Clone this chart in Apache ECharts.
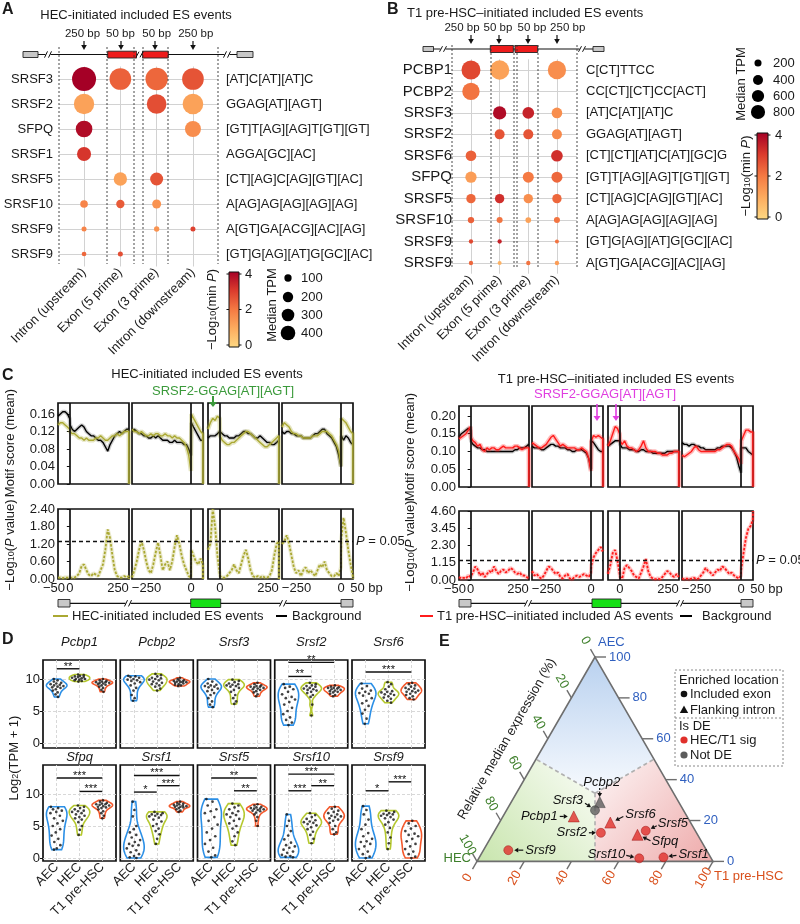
<!DOCTYPE html>
<html>
<head>
<meta charset="utf-8">
<script src="https://cdn.jsdelivr.net/npm/echarts@6.0.0/dist/echarts.min.js"></script>
<style>html,body{margin:0;padding:0;background:#fff;}#chart{width:800px;height:924px;}</style>
</head>
<body>
<div id="chart"></div>
<script>
// ======================= DATA =======================
// ---- Panel A
const aRows = ['SRSF3','SRSF2','SFPQ','SRSF1','SRSF5','SRSF10','SRSF9','SRSF9'];
const aMotifs = ['[AT]C[AT][AT]C','GGAG[AT][AGT]','[GT]T[AG][AG]T[GT][GT]','AGGA[GC][AC]','[CT][AG]C[AG][GT][AC]','A[AG]AG[AG][AG][AG]','A[GT]GA[ACG][AC][AG]','[GT]G[AG][AT]G[GC][AC]'];
const locNames = ['Intron (upstream)','Exon (5 prime)','Exon (3 prime)','Intron (downstream)'];
const aCol = [1,2,3,4, 1,3,4, 1,4, 1, 2,3, 1,2,3, 1,3,4, 1,2];
const aRow = [0,0,0,0, 1,1,1, 2,2, 3, 4,4, 5,5,5, 6,6,6, 7,7];
const aTPM = [1080,880,935,880, 775,725,800, 520,480, 370, 335,317, 110,130,150, 47,53,47, 41,47];
const aP   = [4.0,2.4,2.3,2.6, 1.2,2.7,1.2, 3.8,1.6, 3.1, 1.2,2.6, 1.8,2.5,1.5, 1.8,1.5,2.9, 2.3,2.7];
const aSizeLegend = [100,200,300,400];
// ---- Panel B
const bRows = ['PCBP1','PCBP2','SRSF3','SRSF2','SRSF6','SFPQ','SRSF5','SRSF10','SRSF9','SRSF9'];
const bMotifs = ['C[CT]TTCC','CC[CT][CT]CC[ACT]','[AT]C[AT][AT]C','GGAG[AT][AGT]','[CT][CT][AT]C[AT][GC]G','[GT]T[AG][AG]T[GT][GT]','[CT][AG]C[AG][GT][AC]','A[AG]AG[AG][AG][AG]','[GT]G[AG][AT]G[GC][AC]','A[GT]GA[ACG][AC][AG]'];
const bCol = [1,2,4, 1, 2,3,4, 2,3,4, 1,4, 1,3,4, 1,2,3,4, 1,2,3,4, 1,2,4, 1,2,3,4];
const bRow = [0,0,0, 1, 2,2,2, 3,3,3, 4,4, 5,5,5, 6,6,6,6, 7,7,7,7, 8,8,8, 9,9,9,9];
const bTPM = [1444,1490,1340, 1200, 710,545,455, 400,400,400, 455,545, 510,485,485, 350,350,350,350, 160,144,130,144, 75,75,64, 75,64,75,75];
const bP   = [2.8,1.2,1.6, 2.1, 3.8,3.4,1.6, 2.6,2.6,1.7, 2.4,3.2, 1.3,2.0,2.3, 2.3,3.2,1.6,2.3, 2.4,2.1,1.2,2.1, 2.8,3.4,2.1, 2.3,0.9,2.1,1.3];
const bSizeLegend = [200,400,600,800];
const pLegendTicks = [0,2,4];

// ---- Panel C (bp positions; exon/intron windows)
const xsA = [-50,-40,-30,-20,-10,-1,1,10,20,30,40,50,60,70,80,90,100,110,120,130,140,150,160,170,180,190,200,210,220,230,240,249,250];
const xsB = [-250,-240,-230,-220,-210,-200,-190,-180,-170,-160,-150,-140,-130,-120,-110,-100,-90,-80,-70,-60,-50,-40,-30,-20,-10,-1,1,10,20,30,40,49,50];
// HEC (left) motif score
const LT1bg = [.155,.16,.165,.165,.16,.15,.135,.125,.12,.125,.13,.135,.13,.12,.115,.11,.11,.105,.10,.10,.095,.085,.075,.09,.10,.11,.115,.12,.115,.12,.125,.125,.125];
const LT1fg = [.135,.14,.14,.135,.13,.125,.12,.115,.115,.11,.105,.105,.10,.105,.10,.10,.10,.105,.105,.11,.105,.10,.10,.105,.11,.11,.115,.11,.115,.12,.12,.12,0];
const LT2bg = [.12,.125,.12,.115,.115,.11,.11,.105,.105,.11,.105,.11,.105,.10,.10,.10,.095,.095,.10,.095,.095,.095,.09,.09,.08,.065,.14,.13,.12,.11,.10,.10,.10];
const LT2fg = [.125,.12,.12,.115,.12,.115,.11,.11,.115,.11,.115,.115,.11,.11,.115,.11,.11,.105,.11,.105,.105,.10,.095,.085,.065,.03,.16,.15,.14,.13,.12,.115,0];
const LT3bg = [.105,.11,.11,.11,.115,.12,.12,.115,.11,.11,.105,.105,.105,.11,.11,.115,.12,.12,.115,.115,.11,.105,.105,.11,.105,.10,.095,.095,.09,.09,.095,.10,.10];
const LT3fg = [.125,.14,.15,.145,.155,.15,.11,.10,.095,.09,.09,.095,.095,.10,.105,.11,.115,.12,.12,.115,.11,.105,.10,.095,.09,.085,.085,.09,.095,.10,.105,.11,0];
const LT4bg = [.12,.115,.12,.12,.115,.115,.11,.11,.11,.105,.105,.105,.105,.11,.115,.115,.12,.125,.125,.115,.11,.105,.095,.085,.065,.04,.11,.10,.11,.105,.095,.09,.09];
const LT4fg = [.13,.14,.135,.13,.12,.115,.115,.11,.11,.105,.105,.105,.105,.11,.11,.11,.115,.12,.12,.12,.115,.11,.10,.09,.075,.04,.15,.145,.14,.13,.12,.115,0];
// HEC (left) -log10 P
const LB1 = [.05,.05,.03,.05,.05,.05,.1,.05,.05,.1,.2,.45,.5,.3,.15,.1,.2,.15,.1,.3,.5,1.0,1.7,1.4,.8,.3,.1,.05,.05,.1,.05,.1,0];
const LB2 = [.05,.3,.6,1.0,1.3,1.0,.6,.3,.2,.5,.9,1.25,.8,.3,.5,.6,.3,.6,1.1,1.5,1.2,.8,.5,.3,.1,.05,1.0,.8,.6,.5,.7,.5,0];
const LB3 = [1.0,1.2,2.4,1.8,.8,.2,.1,.05,.05,.1,.2,.3,.5,.3,.2,.5,.8,1.0,.7,.3,.1,.05,.1,.05,.1,.05,.05,.1,.3,.8,1.2,1.3,0];
const LB4 = [1.2,1.3,1.5,1.2,.8,.4,.2,.3,.1,.3,.4,.2,.3,.2,.1,.3,.5,.4,.6,.3,.2,.1,.1,.2,.1,.4,1.4,2.1,1.6,1.0,.5,.1,0];
// T1 pre-HSC (right) motif score
const RT1bg = [.14,.15,.155,.16,.165,.16,.13,.12,.115,.11,.11,.105,.105,.10,.10,.10,.10,.10,.10,.10,.10,.10,.10,.10,.10,.105,.105,.11,.11,.11,.115,.12,.12];
const RT1fg = [.135,.14,.145,.15,.16,.17,.14,.13,.125,.115,.12,.105,.10,.11,.105,.11,.11,.105,.105,.11,.115,.11,.11,.11,.11,.115,.115,.11,.105,.11,.11,.11,0];
const RT2bg = [.115,.11,.11,.11,.105,.105,.11,.115,.12,.12,.115,.115,.11,.11,.11,.105,.105,.10,.10,.105,.105,.105,.10,.095,.08,.05,.13,.125,.115,.105,.10,.10,.10];
const RT2fg = [.125,.12,.115,.11,.11,.115,.12,.13,.14,.145,.135,.125,.115,.12,.115,.11,.11,.11,.11,.105,.105,.11,.105,.10,.08,.045,.13,.145,.14,.145,.14,.135,0];
const RT3bg = [.115,.12,.125,.13,.13,.13,.12,.11,.11,.11,.105,.105,.105,.10,.10,.105,.105,.10,.10,.10,.095,.095,.095,.095,.095,.095,.10,.10,.10,.10,.10,.10,.10];
const RT3fg = [.115,.13,.15,.17,.165,.15,.13,.12,.13,.115,.11,.11,.105,.10,.105,.115,.13,.11,.10,.10,.10,.10,.095,.095,.09,.09,.09,.095,.095,.10,.10,.10,0];
const RT4bg = [.125,.12,.12,.115,.12,.12,.115,.115,.11,.11,.105,.105,.105,.105,.105,.11,.11,.115,.115,.115,.115,.11,.10,.085,.06,.04,.11,.11,.11,.10,.095,.09,.09];
const RT4fg = [.09,.085,.09,.095,.10,.11,.115,.105,.10,.10,.10,.10,.10,.10,.10,.105,.105,.11,.115,.12,.12,.115,.10,.09,.08,.065,.13,.145,.16,.16,.155,.155,0];
// T1 pre-HSC (right) -log10 P
const RB1 = [.2,.1,.15,.1,.3,.2,.3,.5,.9,.7,.3,.5,.2,.4,.6,.5,.9,.6,.4,.6,.7,.5,.6,.8,.7,.5,.4,.5,.3,.3,.2,.1,.1];
const RB2 = [.6,.3,.4,.2,.1,.3,.6,.9,.8,.6,.4,.5,.2,.1,.3,.4,.1,.05,.2,.3,.2,.3,.4,.3,.2,.5,1.0,1.5,1.8,2.0,2.2,1.9,1.9];
const RB3 = [.4,1.0,1.8,2.0,1.3,.4,.2,.1,.8,1.0,.8,.6,.3,.2,.1,.5,.9,1.4,.6,.2,.1,.05,.1,.05,.2,.4,.6,.5,.3,.2,.4,.2,.2];
const RB4 = [.1,.05,.1,.05,.1,.15,.05,.1,.3,.5,.8,.6,.5,.3,.5,.7,.6,.9,.8,.6,.4,.5,.3,.2,.1,.3,.8,1.8,2.8,3.4,3.6,4.0,4.6];
const cLeftTicksTop = [0,0.04,0.08,0.12,0.16];
const cRightTicksTop = [0,0.05,0.10,0.15,0.20];
const cLeftTicksBot = [0,0.6,1.2,1.8,2.4];
const cRightTicksBot = [0,1.15,2.3,3.45,4.6];
const cXLabels = [[-50,0,250],[-250,0],[0,250],[-250,0,50]];
const pThreshold = 1.301;

// ---- Panel D  (log2(TPM+1) per sample: [AEC, HEC, T1 pre-HSC])
const dGenes = ['Pcbp1','Pcbp2','Srsf3','Srsf2','Srsf6','Sfpq','Srsf1','Srsf5','Srsf10','Srsf9'];
const dGroups = ['AEC','HEC','T1 pre-HSC'];
const pcbp1 = [[10.0,9.8,9.6,9.4,9.3,9.2,9.1,9.0,8.9,8.8,8.7,8.6,8.4,8.2,7.9,7.6,7.2],[10.7,10.6,10.5,10.4,10.3,10.3,10.2,10.1,10.0,10.0,9.9,9.8,9.7,9.6],[10.0,9.8,9.7,9.6,9.5,9.5,9.4,9.4,9.3,9.2,9.1,9.0,8.8,8.6,8.3,8.0]];
const pcbp2 = [[10.5,10.4,10.3,10.2,10.0,9.9,9.8,9.7,9.5,9.3,9.0,8.6,8.2,7.5,7.0,6.6],[10.8,10.6,10.4,10.2,10.1,10.0,9.9,9.8,9.6,9.4,9.3,9.2,9.0,8.8,8.5,8.2],[10.2,10.0,9.8,9.8,9.7,9.6,9.6,9.5,9.5,9.4,9.3,9.2,9.1,9.0,8.9]];
const srsf3 = [[10.0,9.6,9.3,9.1,9.0,8.9,8.8,8.7,8.5,8.3,8.1,7.8,7.5,7.0,6.5,6.0,5.6],[9.9,9.7,9.5,9.3,9.2,9.1,9.0,8.9,8.8,8.6,8.3,8.0,7.5,7.0,6.5,6.1],[9.4,9.2,9.0,8.9,8.8,8.8,8.7,8.6,8.5,8.4,8.3,8.1,7.9,7.6,7.3]];
const srsf2 = [[9.2,8.8,8.6,8.4,8.0,7.6,7.2,7.0,6.8,6.4,6.0,5.5,5.0,4.5,4.0,3.6,3.2,2.8],[9.4,9.2,9.0,8.9,8.8,8.6,8.5,8.4,8.3,8.2,8.0,7.8,7.5,7.2,6.0,4.3],[9.0,8.8,8.7,8.6,8.6,8.5,8.4,8.3,8.2,8.1,8.0,7.9,7.7,7.5,7.3]];
const srsf6 = [[9.3,8.9,8.5,8.2,8.0,7.8,7.7,7.4,7.0,6.6,6.2,5.8,5.2,4.6,3.8,3.0],[9.5,9.2,8.8,8.4,8.1,8.0,7.9,7.7,7.6,7.5,7.3,7.1,6.9,6.6,6.3],[9.4,9.2,9.0,8.8,8.6,8.5,8.4,8.2,8.1,8.0,7.9,7.7,7.5,7.3,7.0,6.8]];
const sfpq  = [[8.0,7.8,7.6,7.4,7.2,7.0,6.6,6.2,5.8,5.4,5.0,4.5,4.0,3.5,3.0,2.5,2.0,1.5,1.3],[8.2,8.0,7.8,7.6,7.4,7.3,7.2,7.0,6.8,6.6,6.4,6.2,6.0,5.6,5.0,4.4,3.6],[9.0,8.8,8.6,8.5,8.4,8.4,8.3,8.2,8.1,8.0,7.9,7.8,7.6,7.3,7.0,6.6,6.2]];
const srsf1 = [[8.8,7.5,6.5,5.0,4.5,4.0,3.6,3.2,2.8,2.5,2.2,2.0,1.9,1.5,1.2,0.9,0.6,0.3,0.1,0.0],[7.2,7.0,6.9,6.8,6.7,6.6,6.5,6.3,6.0,5.7,5.3,5.0,4.6,4.2,3.7,3.0,2.2],[8.8,8.6,8.5,8.4,8.3,8.2,8.2,8.1,8.0,8.0,7.9,7.8,7.6,7.4,7.2]];
const srsf5 = [[9.2,8.8,8.2,7.6,7.3,7.0,6.4,5.8,5.2,4.6,4.0,3.4,2.8,2.2,1.6,1.0,0.4,0.1],[8.5,8.2,7.9,7.6,7.3,7.0,6.8,6.7,6.4,6.1,5.8,5.4,5.0,4.6,4.0,3.4,2.6,2.0],[8.4,8.2,8.0,7.9,7.8,7.7,7.7,7.6,7.5,7.4,7.3,7.1,6.8,6.4,5.8,5.0]];
const srsf10 = [[6.8,5.8,5.0,4.2,3.5,2.9,2.4,2.0,1.8,1.6,1.3,1.0,0.8,0.5,0.3,0.2,0.1],[7.0,6.7,6.4,6.1,5.9,5.7,5.6,5.5,5.3,5.1,4.8,4.5,4.1,3.6,3.0,2.3],[8.0,7.7,7.4,7.2,7.0,6.8,6.6,6.5,6.4,6.2,6.0,5.8,5.5,5.0,4.5,4.0,3.7]];
const srsf9 = [[8.1,7.5,6.8,6.0,5.2,4.5,3.9,3.4,3.0,2.6,2.5,2.2,1.8,1.4,1.0,0.6,0.2,0.0],[7.4,7.2,7.0,6.9,6.8,6.7,6.6,6.4,6.2,6.0,5.6,5.2,4.7,4.0,3.2,2.3,1.4],[5.8,5.4,5.0,4.6,4.2,3.8,3.6,3.4,3.0,2.6,2.2,1.8,1.4,1.0,0.6,0.2,0.0]];
const dValues = [pcbp1,pcbp2,srsf3,srsf2,srsf6,sfpq,srsf1,srsf5,srsf10,srsf9];
const dYTicks = [0,5,10];
// significance bars
const sigGene = [0, 3,3, 4, 5,5, 6,6,6, 7,7, 8,8,8, 9,9];
const sigFrom = [1, 1,1, 1, 1,2, 1,1,2, 1,2, 1,1,2, 1,2];
const sigTo   = [2, 2,3, 3, 3,3, 3,2,3, 3,3, 3,2,3, 2,3];
const sigY    = [11.6, 10.4,12.6, 11.1, 12.5,10.4, 12.9,10.3,11.3, 12.5,10.5, 13.1,10.5,11.3, 10.5,11.9];
const sigTxt  = ['**', '**','**', '***', '***','***', '***','*','***', '**','**', '***','***','**', '*','***'];

// ---- Panel E (relative median expression, %)
const eGenes = ['Pcbp2','Srsf3','Pcbp1','Srsf6','Srsf2','Srsf5','Sfpq','Srsf9','Srsf10','Srsf1'];
const eAEC = [29, 25, 22, 19, 14, 15, 13, 5.5, 1.5, 2];
const eHEC = [33.5, 37.5, 48, 34, 40.5, 21, 25.5, 84, 30.5, 20];
const eT1  = [37.5, 37.5, 30, 47, 45.5, 64, 61.5, 10.5, 68, 78];
const eLoc = ['intron','exon','intron','intron','exon','exon','intron','exon','exon','exon'];
const eIsDE = [false,false,true,true,true,true,true,true,true,true];
const ternTicks = [0,20,40,60,80,100];

// ======================= STYLE / LAYOUT =======================
const FONT = "'Liberation Sans', Arial, Helvetica, sans-serif";
const TXT = '#1a1a1a';
const PCOLORS = ['#fed983','#fdac5f','#f57a43','#db3b2d','#a50026'];
const A_K = 0.73, B_K = 0.5;
const C_FG_L = '#aaa832', C_FG_R = '#ff1c1c';
const VCOL = ['#2b8fe6','#b5c82e','#f4582b'];
const BLUE = '#2f5fbf', GREEN = '#3d7f2a', ORANGE = '#d9501c';

const grids=[], xAxes=[], yAxes=[], series=[], G=[];
function addGrid(o){ grids.push(Object.assign({containLabel:false, outerBoundsMode:'none'}, o)); return grids.length-1; }
function addX(o){ xAxes.push(o); return xAxes.length-1; }
function addY(o){ yAxes.push(o); return yAxes.length-1; }
function txt(x,y,text,o){ o=o||{};
  const st={text:text, fill:o.color||TXT, fontSize:o.size||13, fontFamily:FONT, fontStyle:o.italic?'italic':'normal', fontWeight:o.bold?'bold':'normal',
    align:o.align||'left', verticalAlign:o.va||'middle', textAlign:o.align||'left', textVerticalAlign:o.va||'middle'};
  if(o.rich) st.rich=o.rich;
  return {type:'text', x:x, y:y, rotation:o.rot||0, z:o.z||20, silent:true, style:st};
}
function gline(x1,y1,x2,y2,stroke,lw,dash,z){ return {type:'line', silent:true, z:z||20, shape:{x1:x1,y1:y1,x2:x2,y2:y2}, style:{stroke:stroke||'#111', lineWidth:lw||1, lineDash:dash||null}}; }
function grect(x,y,w,h,fill,stroke,z){ return {type:'rect', silent:true, z:z||20, shape:{x:x,y:y,width:w,height:h}, style:{fill:fill, stroke:stroke||'#222', lineWidth:0.9}}; }
function breakMark(x,y,h){ h=h||4.5; G.push({type:'rect', silent:true, z:21, shape:{x:x-2.5,y:y-h,width:5,height:2*h}, style:{fill:'#fff'}});
  G.push(gline(x-3.5,y+h*0.7,x-0.5,y-h*0.7,'#111',1,null,22)); G.push(gline(x+0.5,y+h*0.7,x+3.5,y-h*0.7,'#111',1,null,22)); }
function arrowDown(x,y1,y2,color,lw,hw){ hw=hw||2.8; G.push(gline(x,y1,x,y2-4,color,lw||1.2)); G.push({type:'polygon', silent:true, z:20, shape:{points:[[x-hw,y2-5],[x+hw,y2-5],[x,y2]]}, style:{fill:color}}); }
const RICH13 = { s:{fontSize:9, fontFamily:FONT, verticalAlign:'bottom'}, i:{fontSize:13, fontFamily:FONT, fontStyle:'italic'}, n:{fontSize:13, fontFamily:FONT} };

// ======================= PANEL A & B (dot plots) =======================
function dotPanel(p){
  const g = addGrid({left:p.left, top:p.top, width:p.width, height:p.height});
  const xi = addX({type:'value', gridIndex:g, min:p.xmin, max:p.xmax, axisLine:{show:false}, axisTick:{show:false}, splitLine:{show:false},
    axisLabel:{customValues:[1,2,3,4], formatter:v=>locNames[Math.round(v)-1], rotate:45, fontSize:13, fontFamily:FONT, color:TXT, margin:4}});
  const rowIdx = p.rows.map((_,i)=>i);
  const yi = addY({type:'value', gridIndex:g, min:-0.5, max:p.rows.length-0.5, inverse:true, position:'left', axisLine:{show:false}, axisTick:{show:false}, splitLine:{show:false},
    axisLabel:{customValues:rowIdx, formatter:v=>p.rows[Math.round(v)], fontSize:p.rowFont, fontFamily:FONT, color:TXT, margin:p.lm}});
  addY({type:'value', gridIndex:g, min:-0.5, max:p.rows.length-0.5, inverse:true, position:'right', axisLine:{show:false}, axisTick:{show:false}, splitLine:{show:false},
    axisLabel:{customValues:rowIdx, formatter:v=>p.motifs[Math.round(v)], fontSize:13, fontFamily:FONT, color:TXT, margin:p.rm}});
  series.push({type:'scatter', xAxisIndex:xi, yAxisIndex:yi, silent:true, z:3,
    data:p.col.map((c,i)=>[c, p.row[i], p.tpm[i], p.p[i]]),
    symbolSize:v=>p.k*Math.sqrt(v[2]), itemStyle:{opacity:1},
    markLine:{silent:true, symbol:'none', z:1, animation:false, label:{show:false}, emphasis:{disabled:true},
      lineStyle:{color:'#d2d2d2', width:1, type:'solid'},
      data: rowIdx.map(i=>({yAxis:i})).concat([1,2,3,4].map(c=>({xAxis:c})))}});
}
dotPanel({left:59, top:66.5, width:159, height:200, xmin:0.31, xmax:4.69, rows:aRows, motifs:aMotifs, col:aCol, row:aRow, tpm:aTPM, p:aP, k:A_K, rowFont:13, lm:6, rm:8});
dotPanel({left:452, top:59.3, width:125, height:214.4, xmin:0.338, xmax:4.70, rows:bRows, motifs:bMotifs, col:bCol, row:bRow, tpm:bTPM, p:bP, k:B_K, rowFont:15, lm:0, rm:9});

// ======================= PANEL C =======================
function zipXY(xs,ys){ const o=[]; for(let i=0;i<xs.length&&i<ys.length;i++) o.push([xs[i],ys[i]]); return o; }
function lineS(xi,yi,data,color,width,opacity,type){ return {type:'line', xAxisIndex:xi, yAxisIndex:yi, data:data, symbol:'none', showSymbol:false, silent:true, z:2,
  emphasis:{disabled:true}, lineStyle:{color:color, width:width, opacity:opacity, type:type||'solid'}, itemStyle:{color:color}}; }
const XRICH = { r:{fontSize:13, fontFamily:FONT, padding:[0,22,0,0]}, l:{fontSize:13, fontFamily:FONT, padding:[0,0,0,29]},
  b:{fontSize:13, fontFamily:FONT, padding:[0,0,0,27]}, m:{fontSize:13, fontFamily:FONT, padding:[0,8,0,0]}, c:{fontSize:13, fontFamily:FONT} };
function xFmt(v){ if(v===250) return '{r|250}'; if(v===-250) return '{l|\u2212250}'; if(v===50) return '{b|50 bp}'; if(v===-50) return '{m|\u221250}'; return '{c|'+v+'}'; }
function yAxisC(gi,max,ticks,show){ return {type:'value', gridIndex:gi, min:0, max:max, axisLine:{show:false}, splitLine:{show:false},
  axisTick:{show:show, customValues:ticks, length:3, lineStyle:{color:'#111'}},
  axisLabel:{show:show, customValues:ticks, formatter:v=>v.toFixed(2), fontSize:13, fontFamily:FONT, color:TXT, margin:3}}; }
function buildC(cfg){
  for(let k=0;k<4;k++){
    const l=cfg.boxes[k][0], r=cfg.boxes[k][1];
    const isA=(k%2===0), xs=isA?xsA:xsB, xmin=isA?-50:-250, xmax=isA?250:50;
    const gt=addGrid({left:l, top:cfg.topY, width:r-l, height:cfg.topH, show:true, borderColor:'#111', borderWidth:1.7, backgroundColor:'rgba(0,0,0,0)'});
    const xt=addX({type:'value', gridIndex:gt, min:xmin, max:xmax, axisLine:{show:false}, axisTick:{show:false}, axisLabel:{show:false}, splitLine:{show:false}});
    const yt=addY(yAxisC(gt, cfg.topMax, cfg.topTicks, k===0));
    series.push(lineS(xt,yt,zipXY(xs,cfg.bg[k]),'#000',4,0.2));
    series.push(lineS(xt,yt,zipXY(xs,cfg.bg[k]),'#000',1.4,1));
    series.push(lineS(xt,yt,zipXY(xs,cfg.fg[k]),cfg.color,4.5,0.3));
    const s=lineS(xt,yt,zipXY(xs,cfg.fg[k]),cfg.color,1.4,1);
    s.markLine={silent:true, symbol:'none', animation:false, label:{show:false}, emphasis:{disabled:true}, lineStyle:{color:'#111', width:1.7, type:'solid'}, data:[{xAxis:0}]};
    series.push(s);
    const gb=addGrid({left:l, top:cfg.botY, width:r-l, height:cfg.botH, show:true, borderColor:'#111', borderWidth:1.7, backgroundColor:'rgba(0,0,0,0)'});
    const xb=addX({type:'value', gridIndex:gb, min:xmin, max:xmax, axisLine:{show:false}, axisTick:{show:false}, splitLine:{show:false},
      axisLabel:{customValues:cXLabels[k], formatter:xFmt, rich:XRICH, fontSize:13, fontFamily:FONT, color:TXT, margin:3}});
    const yb=addY(yAxisC(gb, cfg.botMax, cfg.botTicks, k===0));
    series.push(lineS(xb,yb,zipXY(xs,cfg.bot[k]),cfg.color,4,0.25));
    const sb=lineS(xb,yb,zipXY(xs,cfg.bot[k]),cfg.color,1.8,1,[2.5,1.5]);
    sb.markLine={silent:true, symbol:'none', animation:false, emphasis:{disabled:true}, label:{show:false},
      data:[{xAxis:0, lineStyle:{color:'#111', width:1.7, type:'solid'}},
            {yAxis:pThreshold, lineStyle:{color:'#111', width:1.3, type:[4,3]},
             label:{show:k===3, position:'end', distance:3, formatter:'{i|P} = 0.05', color:TXT, fontSize:13, fontFamily:FONT, rich:{i:{fontStyle:'italic', fontSize:13, fontFamily:FONT}}}}]};
    series.push(sb);
  }
}
buildC({boxes:[[58,129],[132,203],[208,279],[282,353]], topY:403, topH:81, topMax:0.185, topTicks:cLeftTicksTop, botY:509, botH:70, botMax:2.4, botTicks:cLeftTicksBot,
  color:C_FG_L, fg:[LT1fg,LT2fg,LT3fg,LT4fg], bg:[LT1bg,LT2bg,LT3bg,LT4bg], bot:[LB1,LB2,LB3,LB4]});
buildC({boxes:[[459,529],[532,603],[608,679],[682,753]], topY:406, topH:81, topMax:0.228, topTicks:cRightTicksTop, botY:511, botH:69, botMax:4.6, botTicks:cRightTicksBot,
  color:C_FG_R, fg:[RT1fg,RT2fg,RT3fg,RT4fg], bg:[RT1bg,RT2bg,RT3bg,RT4bg], bot:[RB1,RB2,RB3,RB4]});

// ======================= PANEL D (violins) =======================
function violinProfile(vals){
  const n=vals.length, s=vals.slice().sort((a,b)=>a-b);
  const mean=s.reduce((a,b)=>a+b,0)/n;
  const sd=Math.sqrt(s.reduce((a,b)=>a+(b-mean)*(b-mean),0)/Math.max(1,n-1));
  const q=p=>{const h=(n-1)*p, lo=Math.floor(h), hi=Math.min(n-1,lo+1); return s[lo]+(h-lo)*(s[hi]-s[lo]);};
  const iqr=q(0.75)-q(0.25);
  let bw=0.9*Math.min(sd, iqr/1.34)*Math.pow(n,-0.2); if(!(bw>0)) bw=0.9*sd*Math.pow(n,-0.2)||0.3;
  const lo=s[0], hi=s[n-1], N=48, prof=[];
  for(let k=0;k<=N;k++){ const y=lo+(hi-lo)*k/N; let d=0; for(const v of s){ const z=(y-v)/bw; d+=Math.exp(-0.5*z*z); } prof.push([y,d]); }
  const m=Math.max.apply(null, prof.map(p=>p[1])); return prof.map(p=>[p[0], p[1]/m]);
}
const VW=0.45;
const dProfiles=dValues.map(gene=>gene.map(violinProfile));
function widthAt(prof,v){ const lo=prof[0][0], hi=prof[prof.length-1][0]; if(hi===lo) return prof[0][1]; const i=Math.max(0,Math.min(prof.length-1,Math.round((v-lo)/(hi-lo)*(prof.length-1)))); return prof[i][1]; }
const dBoxLeft=[43,120.25,197.5,274.75,352], dBoxW=73;
const dRowsLayout=[{top:660,h:88,min:-0.78,max:12.97,titleY:642},{top:765,h:96,min:-0.47,max:14.53,titleY:757}];
dGenes.forEach((gene,gi)=>{
  const r=gi<5?0:1, c=gi%5, L=dRowsLayout[r];
  const g=addGrid({left:dBoxLeft[c], top:L.top, width:dBoxW, height:L.h, show:true, borderColor:'#111', borderWidth:1.7, backgroundColor:'rgba(0,0,0,0)'});
  const xi=addX({type:'value', gridIndex:g, min:0.4, max:3.6, axisLine:{show:false}, splitLine:{show:false},
    axisTick:{show:r===1, customValues:[1,2,3], length:3, lineStyle:{color:'#111'}},
    axisLabel:{show:r===1, customValues:[1,2,3], formatter:v=>dGroups[Math.round(v)-1], rotate:45, fontSize:13, fontFamily:FONT, color:TXT, margin:4}});
  const yi=addY({type:'value', gridIndex:g, min:L.min, max:L.max, axisLine:{show:false}, splitLine:{show:false},
    axisTick:{show:c===0, customValues:dYTicks, length:3, lineStyle:{color:'#111'}},
    axisLabel:{show:c===0, customValues:dYTicks, fontSize:13, fontFamily:FONT, color:TXT, margin:3}});
  const profs=dProfiles[gi];
  series.push({type:'custom', xAxisIndex:xi, yAxisIndex:yi, silent:true, z:3, data:[[1,0],[2,0],[3,0]], encode:{x:0,y:1},
    renderItem:(params,api)=>{ const gk=api.value(0), prof=profs[gk-1];
      const right=prof.map(p=>api.coord([gk+p[1]*VW, p[0]]));
      const left=prof.slice().reverse().map(p=>api.coord([gk-p[1]*VW, p[0]]));
      return {type:'polygon', shape:{points:right.concat(left)}, style:{fill:'rgba(255,255,255,0)', stroke:VCOL[gk-1], lineWidth:1.6}}; }});
  const pts=[];
  dValues[gi].forEach((arr,gk)=>{ arr.forEach((v,i)=>{ const u=((i*0.618034+gk*0.31)%1)*2-1; pts.push([gk+1+u*VW*0.75*widthAt(profs[gk],v), v]); }); });
  series.push({type:'scatter', xAxisIndex:xi, yAxisIndex:yi, silent:true, z:4, data:pts, symbolSize:2.7, itemStyle:{color:'#111'},
    markLine:{silent:true, symbol:'none', z:1, animation:false, label:{show:false}, emphasis:{disabled:true}, lineStyle:{color:'#d4d4d4', width:0.9, type:[3,2]},
      data:[{xAxis:1},{xAxis:2},{xAxis:3},{yAxis:0},{yAxis:5},{yAxis:10}]}});
  const sd=[]; sigGene.forEach((sg,k)=>{ if(sg===gi) sd.push([sigFrom[k], sigTo[k], sigY[k], k]); });
  if(sd.length) series.push({type:'custom', xAxisIndex:xi, yAxisIndex:yi, silent:true, z:5, data:sd, encode:{x:[0,1], y:2},
    renderItem:(params,api)=>{ const p1=api.coord([api.value(0),api.value(2)]), p2=api.coord([api.value(1),api.value(2)]);
      return {type:'group', children:[
        {type:'line', shape:{x1:p1[0],y1:p1[1],x2:p2[0],y2:p2[1]}, style:{stroke:'#111', lineWidth:1.4}},
        {type:'text', x:(p1[0]+p2[0])/2, y:p1[1]-2, style:{text:sigTxt[api.value(3)], fill:'#111', fontSize:11, fontFamily:FONT, align:'center', verticalAlign:'middle', textAlign:'center', textVerticalAlign:'middle'}}]}; }});
  G.push(txt(dBoxLeft[c]+dBoxW/2, L.titleY, gene, {align:'center', italic:true}));
});

// ======================= PANEL E (ternary) =======================
function T(a,h,t){ return [t/100 + a/200, a/100*Math.sqrt(3)/2]; }
const gE=addGrid({left:477, top:657, width:236, height:204.4});
const xE=addX({type:'value', gridIndex:gE, min:0, max:1, show:false});
const yE=addY({type:'value', gridIndex:gE, min:0, max:Math.sqrt(3)/2, show:false});
function etext(x,y,text,color,rot,align){ return {type:'text', x:x, y:y, rotation:rot||0, style:{text:text, fill:color, fontSize:13, fontFamily:FONT, align:align||'center', verticalAlign:'middle', textAlign:align||'center', textVerticalAlign:'middle'}}; }
series.push({type:'custom', xAxisIndex:xE, yAxisIndex:yE, silent:true, z:1, data:[[0.5,0.3]], encode:{x:0,y:1},
  renderItem:(params,api)=>{
    const P=(a,h,t)=>api.coord(T(a,h,t)); const c3=100/3, cen=P(c3,c3,c3); const ch=[];
    const LG=echarts.graphic.LinearGradient;
    ch.push({type:'polygon', shape:{points:[P(100,0,0),P(50,0,50),cen,P(50,50,0)]}, style:{fill:new LG(0,0,0,1,[{offset:0,color:'#b9d1ef'},{offset:1,color:'#f7fafe'}])}});
    ch.push({type:'polygon', shape:{points:[P(0,100,0),P(50,50,0),cen,P(0,50,50)]}, style:{fill:new LG(0,1,1,0,[{offset:0,color:'#c8e5ad'},{offset:1,color:'#fbfdf8'}])}});
    ch.push({type:'polygon', shape:{points:[P(0,0,100),P(0,50,50),cen,P(50,0,50)]}, style:{fill:new LG(1,1,0,0,[{offset:0,color:'#eeaaaa'},{offset:1,color:'#fdf6f6'}])}});
    [P(50,50,0),P(50,0,50),P(0,50,50)].forEach(q=>ch.push({type:'line', shape:{x1:cen[0],y1:cen[1],x2:q[0],y2:q[1]}, style:{stroke:'#b0b0b0', lineWidth:1.6, lineDash:[4,3]}}));
    ch.push({type:'polygon', shape:{points:[P(100,0,0),P(0,100,0),P(0,0,100)]}, style:{fill:'none', stroke:'#6e6e6e', lineWidth:1.6}});
    const s3=Math.sqrt(3)/2;
    ternTicks.forEach(v=>{
      let p=P(v,0,100-v); ch.push({type:'line', shape:{x1:p[0],y1:p[1],x2:p[0]+11,y2:p[1]}, style:{stroke:'#6e6e6e', lineWidth:1.4}});
      ch.push(etext(p[0]+14,p[1],String(v),BLUE,0,'left'));
      p=P(100-v,v,0); ch.push({type:'line', shape:{x1:p[0],y1:p[1],x2:p[0]-0.5*9,y2:p[1]-s3*9}, style:{stroke:'#6e6e6e', lineWidth:1.4}});
      ch.push(etext(p[0]-0.5*19,p[1]-s3*19,String(v),GREEN,-Math.PI/3));
      p=P(0,100-v,v); ch.push({type:'line', shape:{x1:p[0],y1:p[1],x2:p[0]-0.5*9,y2:p[1]+s3*9}, style:{stroke:'#6e6e6e', lineWidth:1.4}});
      ch.push(etext(p[0]-0.5*19,p[1]+s3*19,String(v),ORANGE,Math.PI/3));
    });
    return {type:'group', children:ch};
  }});
series.push({type:'scatter', xAxisIndex:xE, yAxisIndex:yE, silent:true, z:5,
  data:eGenes.map((g,i)=>({value:T(eAEC[i],eHEC[i],eT1[i]), symbol:eLoc[i]==='exon'?'circle':'triangle', symbolSize:eLoc[i]==='exon'?9:11,
    itemStyle:{color:eIsDE[i]?'#e0302b':'#5c5c5c', borderColor:eIsDE[i]?'#9a1414':'#333', borderWidth:0.6}}))});
// label layout (pixel offsets relative to each point)
const eLab = [
  {dx:2,dy:-20,al:'center',a1:[0,-14],a2:[0,-5],dash:true},
  {dx:-12,dy:-10,al:'right',a1:[-10,-7],a2:[-4,-3]},
  {dx:-16,dy:0,al:'right',a1:[-14,0],a2:[-6,0]},
  {dx:15,dy:-8,al:'left',a1:[13,-6],a2:[5,-2]},
  {dx:-14,dy:0,al:'right',a1:[-12,0],a2:[-5,0]},
  {dx:12,dy:-7,al:'left',a1:[11,-5],a2:[5,-2]},
  {dx:14,dy:7,al:'left',a1:[13,6],a2:[5,2]},
  {dx:17,dy:0,al:'left',a1:[15,0],a2:[6,0]},
  {dx:-14,dy:-4,al:'right',a1:[-13,-3],a2:[-5,-1]},
  {dx:15,dy:-3,al:'left',a1:[13,-2],a2:[5,-1]}];
function arrowEls(x1,y1,x2,y2,dash){ const dx=x2-x1, dy=y2-y1, Ln=Math.hypot(dx,dy)||1, ux=dx/Ln, uy=dy/Ln, hl=4, hw=2.4, bx=x2-ux*hl, by=y2-uy*hl;
  return [{type:'line', shape:{x1:x1,y1:y1,x2:bx,y2:by}, style:{stroke:'#111', lineWidth:1.2, lineDash:dash?[2,1.5]:null}},
          {type:'polygon', shape:{points:[[x2,y2],[bx-uy*hw,by+ux*hw],[bx+uy*hw,by-ux*hw]]}, style:{fill:'#111'}}]; }
series.push({type:'custom', xAxisIndex:xE, yAxisIndex:yE, silent:true, z:6,
  data:eGenes.map((g,i)=>T(eAEC[i],eHEC[i],eT1[i]).concat([i])), encode:{x:0,y:1},
  renderItem:(params,api)=>{ const i=api.value(2), p=api.coord([api.value(0),api.value(1)]), Lb=eLab[i];
    const ch=[{type:'text', x:p[0]+Lb.dx, y:p[1]+Lb.dy, style:{text:eGenes[i], fill:'#111', fontSize:13, fontFamily:FONT, fontStyle:'italic', align:Lb.al, verticalAlign:'middle', textAlign:Lb.al, textVerticalAlign:'middle'}}];
    return {type:'group', children:ch.concat(arrowEls(p[0]+Lb.a1[0],p[1]+Lb.a1[1],p[0]+Lb.a2[0],p[1]+Lb.a2[1],Lb.dash))}; }});

// ======================= GRAPHIC ANNOTATIONS =======================
// panel letters
G.push(txt(2,10,'A',{size:16,bold:true})); G.push(txt(387,10,'B',{size:16,bold:true}));
G.push(txt(2,376,'C',{size:16,bold:true})); G.push(txt(2,640,'D',{size:16,bold:true})); G.push(txt(439,642,'E',{size:16,bold:true}));
// A header
G.push(txt(136,15,'HEC-initiated included ES events',{align:'center'}));
G.push(gline(37,54.5,237,54.5,'#111',1.2));
G.push(grect(23,51.5,15,6,'#c8c8c8')); G.push(grect(237,51.5,16,6,'#c8c8c8'));
G.push(grect(107.7,51.2,29,6.8,'#ee1c1c')); G.push(grect(142.3,51.2,26,6.8,'#ee1c1c'));
breakMark(48,54.5); breakMark(227,54.5); breakMark(139.5,54.5,4);
[[82.5,'250 bp'],[120.5,'50 bp'],[156.7,'50 bp'],[195.8,'250 bp']].forEach(t=>G.push(txt(t[0],34,t[1],{align:'center',size:11.5})));
[84,121,155,193].forEach(x=>arrowDown(x,41,50,'#111',1.2));
[59,107,134,143,168,218].forEach(x=>G.push(gline(x,47,x,264,'#333',0.9,[2,2])));
// B header
G.push(txt(407,13,'T1 pre-HSC\u2013initiated included ES events',{align:'left'}));
G.push(gline(433,49,593,49,'#111',1.2));
G.push(grect(423,46.5,10.5,5,'#c8c8c8')); G.push(grect(593,46.5,11,5,'#c8c8c8'));
G.push(grect(490.3,45.5,23,7,'#ee1c1c')); G.push(grect(515,45.5,22.7,7,'#ee1c1c'));
breakMark(443,49,4); breakMark(582,49,4);
[[462,'250 bp'],[498,'50 bp'],[532,'50 bp'],[567.7,'250 bp']].forEach(t=>G.push(txt(t[0],28,t[1],{align:'center',size:11.5})));
[471,499,528,557].forEach(x=>arrowDown(x,35,44,'#111',1.2));
[452,491,514,517,538,577].forEach(x=>G.push(gline(x,45,x,267,'#333',0.9,[2,2])));
// colour bars & size legends
function pGrad(){ return new echarts.graphic.LinearGradient(0,0,0,1,[{offset:0,color:PCOLORS[4]},{offset:.25,color:PCOLORS[3]},{offset:.5,color:PCOLORS[2]},{offset:.75,color:PCOLORS[1]},{offset:1,color:PCOLORS[0]}]); }
function colorBar(x,y,w,h,tickX,titleX){
  G.push({type:'rect', silent:true, z:20, shape:{x:x,y:y,width:w,height:h}, style:{fill:pGrad(), stroke:'#111', lineWidth:1}});
  pLegendTicks.forEach(v=>{ const yy=y+h-2-(h-4)*v/4; G.push(txt(tickX,yy,String(v))); G.push(gline(x+w,yy,x+w+2.5,yy,'#111',1)); G.push(gline(x-2.5,yy,x,yy,'#111',1)); });
  G.push(txt(titleX,y+h/2,'\u2212Log{s|10}(min {i|P})',{align:'center',rot:Math.PI/2,rich:RICH13}));
}
colorBar(229,272,10,75,245,212);
colorBar(757,133,11,86,775,746);
function sizeLegend(vals,k,cx,ys,labX,titleX,titleY){
  vals.forEach((v,i)=>{ G.push({type:'circle', silent:true, z:20, shape:{cx:cx,cy:ys[i],r:k*Math.sqrt(v)/2}, style:{fill:'#000'}}); G.push(txt(labX,ys[i],String(v))); });
  G.push(txt(titleX,titleY,'Median TPM',{align:'center',rot:Math.PI/2}));
}
sizeLegend(aSizeLegend,A_K,288,[278,297,315,333],301,272,305);
sizeLegend(bSizeLegend,B_K,758,[63,80,96,112],773,741,84);
// C titles & annotations
G.push(txt(207,374,'HEC-initiated included ES events',{align:'center'}));
G.push(txt(223,391,'SRSF2-GGAG[AT][AGT]',{align:'center',color:'#3b9a3b'}));
arrowDown(213,396,407,'#3b9a3b',2,4);
G.push(txt(616,379,'T1 pre-HSC\u2013initiated included ES events',{align:'center'}));
G.push(txt(605,394,'SRSF2-GGAG[AT][AGT]',{align:'center',color:'#e03ee0'}));
arrowDown(597,404,421,'#e03ee0',1.6,3.5); arrowDown(616,404,421,'#e03ee0',1.6,3.5);
[[10,443,'Motif score (mean)'],[410,447,'Motif score (mean)']].forEach(t=>G.push(txt(t[0],t[1],t[2],{align:'center',rot:Math.PI/2})));
[[10,545],[410,546]].forEach(t=>G.push(txt(t[0],t[1],'\u2212Log{s|10}({i|P} value)',{align:'center',rot:Math.PI/2,rich:RICH13})));
function geneDiagram(l,r,gl,gr,b1,b2){
  G.push(gline(l+12,603.3,r-12,603.3,'#111',1.2));
  G.push(grect(l,599.5,12,7.5,'#c8c8c8')); G.push(grect(r-12,599.5,12,7.5,'#c8c8c8'));
  G.push(grect(gl,599,gr-gl,8.5,'#16e016'));
  breakMark(b1,603.3,4.5); breakMark(b2,603.3,4.5);
}
geneDiagram(58,353,190.7,220.7,128,283);
geneDiagram(459,753,592,621,528,680);
G.push(gline(53,616,68,616,C_FG_L,2)); G.push(txt(72,616,'HEC-initiated included ES events'));
G.push(gline(276,616,287,616,'#000',2)); G.push(txt(292,616,'Background'));
G.push(gline(420,616,433,616,C_FG_R,2)); G.push(txt(437,616,'T1 pre-HSC\u2013initiated included AS events'));
G.push(gline(680,616,692,616,'#000',2)); G.push(txt(702,616,'Background'));
// D axis title
G.push(txt(14,758,'Log{s|2}(TPM + 1)',{align:'center',rot:Math.PI/2,rich:RICH13}));
// E labels & legend
G.push(txt(598,642,'AEC',{color:BLUE}));
G.push(txt(471,858,'HEC',{color:GREEN,align:'right'}));
G.push(txt(714,876,'T1 pre-HSC',{color:ORANGE}));
G.push(txt(507,739,'Relative median expression (%)',{align:'center',rot:Math.PI/3}));
G.push({type:'rect', silent:true, z:20, shape:{x:675,y:670,width:108,height:96}, style:{fill:'none', stroke:'#888', lineWidth:1, lineDash:[2,2]}});
G.push(gline(675,718,783,718,'#888',1,[2,2]));
G.push(txt(679,680,'Enriched location'));
G.push({type:'circle', silent:true, z:20, shape:{cx:684,cy:694,r:3.3}, style:{fill:'#111'}}); G.push(txt(690,694,'Included exon'));
G.push({type:'polygon', silent:true, z:20, shape:{points:[[684,705.5],[679.8,713],[688.2,713]]}, style:{fill:'#111'}}); G.push(txt(690,710,'Flanking intron'));
G.push(txt(679,726,'Is DE'));
G.push({type:'circle', silent:true, z:20, shape:{cx:684,cy:740,r:3.6}, style:{fill:'#e0302b'}}); G.push(txt(690,740,'HEC/T1 sig'));
G.push({type:'circle', silent:true, z:20, shape:{cx:684,cy:755,r:3.6}, style:{fill:'#5c5c5c'}}); G.push(txt(690,755,'Not DE'));

// ======================= RENDER =======================
const option = {
  animation:false, backgroundColor:'#fff', textStyle:{fontFamily:FONT},
  grid:grids, xAxis:xAxes, yAxis:yAxes, series:series,
  visualMap:[{type:'continuous', show:false, min:0, max:4, dimension:3, seriesIndex:[0,1], inRange:{color:PCOLORS}}],
  graphic:{elements:G}
};
const chart = echarts.init(document.getElementById('chart'), null, {renderer:'canvas', width:800, height:924});
chart.setOption(option);
</script>
</body>
</html>
